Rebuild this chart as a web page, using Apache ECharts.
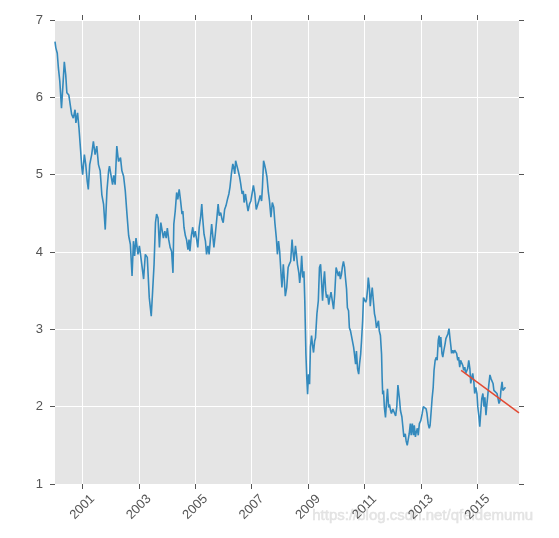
<!DOCTYPE html>
<html>
<head>
<meta charset="utf-8">
<script src="https://cdn.jsdelivr.net/npm/echarts@6/dist/echarts.min.js"></script>
<style>
html,body{margin:0;padding:0;background:#fff;}
#chart{width:559px;height:538px;}
</style>
</head>
<body>
<div id="chart"></div>
<script>
// decimal years of the observed series
var years = [
2000.03,2000.06,2000.11,2000.15,2000.20,2000.26,2000.32,2000.36,2000.41,2000.45,2000.52,2000.57,2000.62,2000.68,2000.74,2000.77,2000.83,2000.88,2000.94,2000.98,
2001.01,2001.07,2001.12,2001.17,2001.21,2001.26,2001.33,2001.39,2001.45,2001.51,2001.57,2001.63,2001.69,2001.75,2001.81,2001.87,2001.93,2001.96,
2002.02,2002.07,2002.11,2002.16,2002.22,2002.28,2002.35,2002.40,2002.46,2002.52,2002.58,2002.64,2002.70,2002.76,2002.81,2002.85,2002.90,2002.97,
2003.02,2003.06,2003.11,2003.17,2003.23,2003.30,2003.37,2003.44,2003.49,2003.54,2003.59,2003.63,2003.68,2003.73,2003.78,2003.82,2003.87,2003.92,2003.97,
2004.01,2004.06,2004.11,2004.16,2004.21,2004.24,2004.29,2004.34,2004.38,2004.43,2004.48,2004.53,2004.56,2004.60,2004.65,2004.69,2004.74,2004.78,2004.81,2004.86,2004.91,2004.95,
2005.00,2005.05,2005.09,2005.14,2005.19,2005.23,2005.26,2005.31,2005.36,2005.40,2005.45,2005.49,2005.53,2005.58,2005.62,2005.66,2005.71,2005.76,2005.81,2005.85,2005.90,2005.95,2005.99,
2006.04,2006.09,2006.14,2006.19,2006.23,2006.28,2006.33,2006.36,2006.40,2006.43,2006.47,2006.52,2006.57,2006.61,2006.66,2006.70,2006.73,2006.78,2006.83,2006.87,2006.92,2006.97,
2007.01,2007.06,2007.11,2007.16,2007.20,2007.25,2007.30,2007.35,2007.38,2007.42,2007.45,2007.49,2007.54,2007.59,2007.63,2007.68,2007.73,2007.78,2007.82,2007.87,2007.91,2007.95,2007.99,
2008.04,2008.07,2008.12,2008.15,2008.19,2008.24,2008.29,2008.33,2008.38,2008.43,2008.46,2008.50,2008.55,2008.58,2008.62,2008.67,2008.70,2008.74,2008.77,2008.81,2008.85,2008.88,2008.92,2008.95,2008.98,
2009.01,2009.05,2009.08,2009.12,2009.15,2009.19,2009.23,2009.26,2009.31,2009.36,2009.40,2009.44,2009.48,2009.51,2009.55,2009.58,2009.62,2009.65,2009.69,2009.73,2009.76,2009.81,2009.86,2009.90,2009.94,2009.99,
2010.02,2010.07,2010.11,2010.14,2010.18,2010.21,2010.25,2010.29,2010.32,2010.36,2010.39,2010.43,2010.46,2010.50,2010.54,2010.57,2010.61,2010.64,2010.68,2010.71,2010.75,2010.79,2010.82,2010.86,2010.89,2010.93,2010.96,
2011.00,2011.04,2011.07,2011.11,2011.13,2011.17,2011.20,2011.24,2011.27,2011.31,2011.35,2011.38,2011.42,2011.45,2011.49,2011.52,2011.56,2011.60,2011.62,2011.64,2011.67,2011.70,2011.74,2011.77,2011.81,2011.85,2011.88,2011.92,2011.95,
2012.00,2012.05,2012.10,2012.14,2012.18,2012.20,2012.24,2012.27,2012.32,2012.35,2012.39,2012.44,2012.47,2012.51,2012.54,2012.58,2012.62,2012.65,2012.69,2012.73,2012.76,2012.80,2012.83,2012.87,2012.90,2012.94,2012.99,
2013.04,2013.08,2013.13,2013.18,2013.21,2013.25,2013.29,2013.32,2013.36,2013.39,2013.43,2013.46,2013.50,2013.54,2013.57,2013.61,2013.64,2013.67,2013.70,2013.74,2013.77,2013.81,2013.85,2013.88,2013.92,2013.95,2013.99,
2014.02,2014.06,2014.08,2014.12,2014.15,2014.19,2014.23,2014.26,2014.30,2014.33,2014.37,2014.40,2014.44,2014.48,2014.51,2014.55,2014.58,2014.62,2014.65,2014.69,2014.73,2014.76,2014.80,2014.83,2014.87,2014.90,2014.94,2014.98,
2015.01,2015.05,2015.08,2015.12,2015.15,2015.19,2015.23,2015.26,2015.30,2015.33,2015.37,2015.40,2015.44,2015.48,2015.51,2015.55,2015.58,2015.62,2015.65,2015.69,2015.73,2015.76,2015.80,2015.83,2015.87,2015.90,2015.94,2015.99
];
// observed yield values
var yields = [
6.72,6.64,6.57,6.38,6.21,5.86,6.21,6.46,6.29,6.06,6.03,6.01,5.78,5.73,5.84,5.67,5.80,5.60,5.30,5.09,
5.00,5.26,5.13,4.92,4.81,5.13,5.26,5.43,5.26,5.37,5.13,5.05,4.74,4.62,4.29,4.79,5.05,5.11,
5.09,4.87,4.99,4.87,5.37,5.17,5.22,5.05,4.98,4.79,4.49,4.21,4.10,3.69,4.14,3.95,4.18,3.97,
4.08,3.97,3.97,3.65,3.97,3.93,3.41,3.17,3.50,3.84,4.38,4.49,4.44,4.06,4.38,4.36,4.18,4.27,4.18,
4.31,4.16,4.06,4.01,3.73,4.36,4.53,4.77,4.68,4.81,4.66,4.49,4.53,4.32,4.21,4.16,4.03,4.16,4.01,4.21,4.32,4.19,
4.27,4.16,4.06,4.32,4.45,4.62,4.45,4.23,4.14,3.97,4.08,3.97,4.14,4.36,4.21,4.06,4.23,4.42,4.62,4.47,4.51,4.42,4.38,
4.55,4.60,4.68,4.75,4.84,5.01,5.14,5.10,5.01,5.18,5.20,5.05,4.97,4.88,4.75,4.79,4.64,4.75,4.62,4.53,4.62,4.66,
4.75,4.86,4.75,4.55,4.55,4.66,4.73,4.66,4.84,5.18,5.14,5.07,4.97,4.77,4.66,4.45,4.64,4.58,4.38,4.19,3.97,4.14,4.01,
3.71,3.54,3.84,3.67,3.43,3.54,3.80,3.84,3.88,4.16,4.01,3.88,4.08,3.99,3.84,3.73,3.60,3.75,3.95,3.67,3.75,3.37,2.68,2.38,2.16,
2.42,2.29,2.77,2.92,2.81,2.70,2.85,2.89,3.20,3.37,3.80,3.84,3.58,3.37,3.63,3.75,3.50,3.41,3.45,3.32,3.39,3.48,3.50,3.26,3.45,3.80,
3.82,3.69,3.75,3.65,3.71,3.80,3.88,3.80,3.67,3.52,3.28,3.24,3.02,2.98,2.96,2.98,2.77,2.68,2.55,2.72,2.49,2.42,2.55,2.68,2.85,3.11,3.41,
3.39,3.35,3.39,3.54,3.67,3.54,3.30,3.45,3.54,3.37,3.20,3.15,3.02,3.00,3.11,2.98,2.92,2.68,2.38,2.16,2.21,1.99,1.86,2.03,2.23,1.99,2.03,1.95,1.91,
1.97,1.95,1.88,2.00,2.28,2.28,2.08,1.95,1.87,1.76,1.61,1.65,1.56,1.50,1.48,1.65,1.78,1.63,1.78,1.63,1.76,1.61,1.67,1.72,1.63,1.78,1.82,
1.91,2.00,2.02,1.97,1.91,1.78,1.72,1.76,1.95,2.10,2.25,2.47,2.60,2.64,2.60,2.86,2.92,2.77,2.90,2.69,2.64,2.73,2.81,2.88,2.90,2.94,3.01,
2.90,2.77,2.69,2.73,2.69,2.73,2.75,2.69,2.60,2.64,2.51,2.60,2.62,2.53,2.47,2.51,2.43,2.41,2.49,2.60,2.49,2.30,2.38,2.43,2.32,2.17,2.25,2.17,
2.00,1.87,1.74,1.95,2.10,2.17,2.00,2.12,1.89,2.02,2.17,2.28,2.41,2.36,2.38,2.30,2.21,2.23,2.21,2.17,2.10,2.04,2.08,2.21,2.32,2.21,2.23,2.25
];
// forecast line
var forecastYears = [2014.42, 2016.47];
var forecastValues = [2.47, 1.92];
// tick labels
var xTickYears = [2001, 2003, 2005, 2007, 2009, 2011, 2013, 2015];

var observed = years.map(function (y, i) { return [y, yields[i]]; });
var forecast = forecastYears.map(function (y, i) { return [y, forecastValues[i]]; });

var chart = echarts.init(document.getElementById('chart'), null, {renderer: 'canvas'});
var tickColor = '#555555';
var fontFam = '"Liberation Sans", Arial, sans-serif';
chart.setOption({
  animation: false,
  backgroundColor: '#ffffff',
  grid: {left: 55, right: 40, top: 20, bottom: 54, show: true, backgroundColor: '#E5E5E5', borderWidth: 0, containLabel: false},
  xAxis: [{
    type: 'value', position: 'bottom', min: 2000.03, max: 2016.47,
    axisLine: {show: false},
    axisTick: {show: true, inside: false, length: 5, customValues: xTickYears, lineStyle: {color: tickColor, width: 1}},
    axisLabel: {show: true, customValues: xTickYears, rotate: 45, align: 'center', verticalAlign: 'middle', margin: 23,
      color: tickColor, fontSize: 13, fontFamily: fontFam, formatter: function (v) { return String(Math.round(v)); }},
    splitLine: {show: true, lineStyle: {color: '#ffffff', width: 1}}
  }, {
    type: 'value', position: 'top', min: 2000.03, max: 2016.47,
    axisLine: {show: false},
    axisTick: {show: true, inside: false, length: 5, customValues: xTickYears, lineStyle: {color: tickColor, width: 1}},
    axisLabel: {show: false},
    splitLine: {show: false}
  }],
  yAxis: [{
    type: 'value', position: 'left', min: 1, max: 7, interval: 1,
    axisLine: {show: false},
    axisTick: {show: true, inside: false, length: 5, lineStyle: {color: tickColor, width: 1}},
    axisLabel: {color: tickColor, fontSize: 13, fontFamily: fontFam, margin: 12},
    splitLine: {show: true, lineStyle: {color: '#ffffff', width: 1}}
  }, {
    type: 'value', position: 'right', min: 1, max: 7, interval: 1,
    axisLine: {show: false},
    axisTick: {show: true, inside: false, length: 5, lineStyle: {color: tickColor, width: 1}},
    axisLabel: {show: false},
    splitLine: {show: false}
  }],
  series: [{
    type: 'line', xAxisIndex: 0, yAxisIndex: 0, data: observed,
    showSymbol: false, symbol: 'none', lineStyle: {color: '#348ABD', width: 1.6}, z: 3
  }, {
    type: 'line', xAxisIndex: 0, yAxisIndex: 0, data: forecast,
    showSymbol: false, symbol: 'none', lineStyle: {color: '#E24A33', width: 1.5}, z: 4
  }],
  graphic: [{
    type: 'text', left: 312, top: 508,
    style: {text: 'https://blog.csdn.net/qfeidemumu', fill: 'rgba(225,225,225,0.9)', stroke: 'rgba(200,200,200,0.5)', lineWidth: 0.5,
      font: '15px "Liberation Sans", Arial, sans-serif'}
  }]
});
</script>
</body>
</html>
